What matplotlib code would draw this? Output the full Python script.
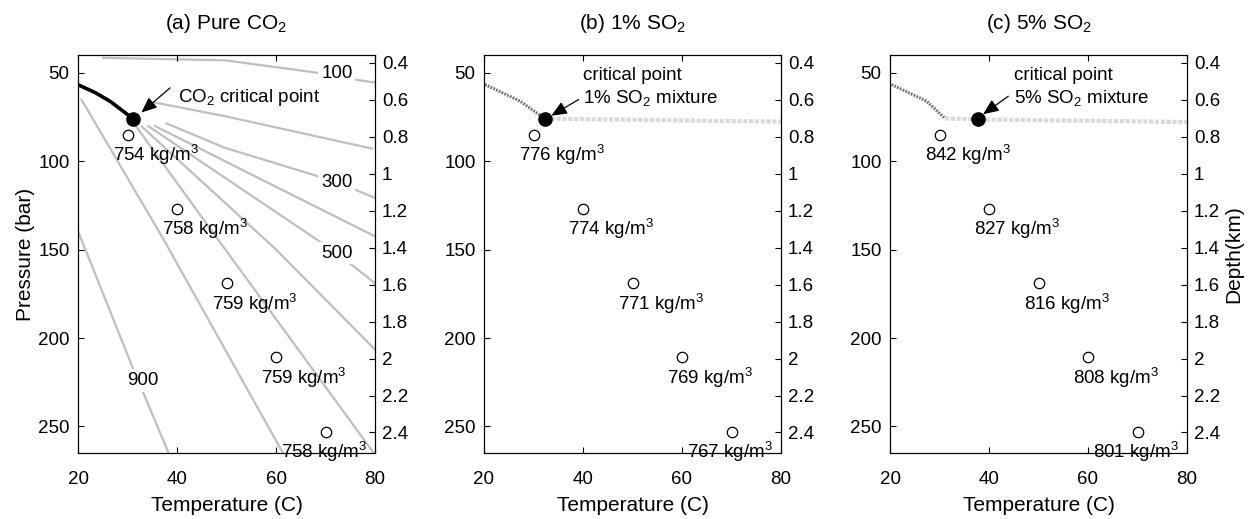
import numpy as np
import matplotlib
matplotlib.use('Agg')
import matplotlib.pyplot as plt

plt.rcParams['font.family'] = ['Liberation Sans', 'DejaVu Sans']
plt.rcParams['mathtext.fontset'] = 'custom'
plt.rcParams['mathtext.rm'] = 'Liberation Sans'
plt.rcParams['mathtext.default'] = 'regular'
plt.rcParams['font.size'] = 13.5

# sample points (temperature C, pressure bar) and densities
temps = [30, 40, 50, 60, 70]
press = [85, 127, 169, 211, 253]
dens_a = [754, 758, 759, 759, 758]
dens_b = [776, 774, 771, 769, 767]
dens_c = [842, 827, 816, 808, 801]

# pure CO2 saturation curve and critical point
sat_T = [20, 23.5, 26.5, 31.1]
sat_P = [56.8, 61.3, 66.2, 76]
crit_a = (31.1, 76)

# CO2 density isolines (kg/m3)
iso_levels = [100, 200, 300, 400, 500, 600, 700, 800, 900]
iso_T = [[25.1, 49.7, 68.3, 76.6, 80],
         [35.6, 49.7, 79.4],
         [37.9, 49.7, 72.3, 80],
         [35.6, 55, 80],
         [34.2, 72.3, 80],
         [32.9, 59.8, 80],
         [31.0, 46.7, 80],
         [20.7, 37.2, 61.8],
         [20, 30.8, 38.6]]
iso_P = [[41.6, 43.0, 50.0, 54.2, 55.6],
         [66.9, 74.6, 92.9],
         [78.7, 92.5, 111.8, 120.8],
         [80.2, 107.5, 142.5],
         [80.2, 152, 169],
         [80.5, 149.4, 206.5],
         [77.5, 138.2, 266],
         [65.2, 143.8, 267],
         [139.5, 215, 267]]
iso_labels = {100: (72.3, 50.5), 300: (72.3, 112), 500: (72.3, 152), 900: (33.1, 224)}

# mixtures: two-phase boundary (dark) and critical pressure line (light)
b_dark_T = [20.2, 27.3, 32.3]
b_dark_P = [56.7, 66.1, 76]
b_light_T = [32.3, 80]
b_light_P = [76, 77.7]
crit_b = (32.3, 76)

c_dark_T = [20.3, 27.4, 31.1]
c_dark_P = [56.7, 66.1, 75.8]
c_light_T = [31.1, 37.8, 80]
c_light_P = [75.8, 76.4, 77.9]
crit_c = (37.8, 76.4)

titles = ['(a) Pure CO$_2$', '(b) 1% SO$_2$', '(c) 5% SO$_2$']
depth_ticks = [0.4, 0.6, 0.8, 1, 1.2, 1.4, 1.6, 1.8, 2, 2.2, 2.4]


def depth(p):
    return (p - 2.6) / 104.5


fig = plt.figure(figsize=(12.51, 5.19), dpi=100)
lefts = [78, 484, 890]
axes = []
for i, lx in enumerate(lefts):
    ax = fig.add_axes([lx / 1251, 1 - 453 / 519, 297 / 1251, 398 / 519])
    ax.set_xlim(20, 80)
    ax.set_ylim(265, 40)
    ax.set_xticks([20, 40, 60, 80])
    ax.set_yticks([50, 100, 150, 200, 250])
    ax.tick_params(direction='in', top=True, right=True, length=4, width=0.8, labelsize=13.5)
    ax.tick_params(axis='x', pad=13)
    ax.tick_params(axis='y', pad=6)
    ax.set_xlabel('Temperature (C)', fontsize=15, labelpad=6)
    ax.set_title(titles[i], fontsize=15, pad=19)
    ax2 = ax.twinx()
    ax2.set_ylim(depth(265), depth(40))
    ax2.set_yticks(depth_ticks)
    ax2.set_yticklabels(['%g' % d for d in depth_ticks])
    ax2.tick_params(direction='in', length=4, width=0.8, labelsize=13.5, pad=5)
    for a in (ax, ax2):
        for s in a.spines.values():
            s.set_linewidth(0.8)
    axes.append((ax, ax2))

axes[0][0].set_ylabel('Pressure (bar)', fontsize=15, labelpad=2)
axes[2][1].set_ylabel('Depth(km)', fontsize=15, labelpad=3)

# panel a
ax = axes[0][0]
for lev, tt, pp in zip(iso_levels, iso_T, iso_P):
    ax.plot(tt, pp, color='0.75', lw=1.6, zorder=1)
for lev, (tx, py) in iso_labels.items():
    ax.text(tx, py, str(lev), ha='center', va='center', fontsize=13.5,
            bbox=dict(facecolor='white', edgecolor='none', pad=2), zorder=2)
ax.plot(sat_T, sat_P, color='k', lw=2.6, zorder=3)
ax.plot(*crit_a, 'o', color='k', ms=9.5, zorder=4)
ax.annotate('', xy=(32.8, 72.5), xytext=(38.6, 58.6),
            arrowprops=dict(arrowstyle='-|>,head_length=0.7,head_width=0.3', color='k', lw=0.9,
                            shrinkA=0, shrinkB=0), zorder=5)
ax.text(40.2, 66.7, 'CO$_2$ critical point', ha='left', va='baseline')

# panels b, c
for (ax, _), dark_T, dark_P, light_T, light_P, crit, tip, tail, txt_x, pct in [
        (axes[1], b_dark_T, b_dark_P, b_light_T, b_light_P, crit_b, (33.6, 74.3), (39.1, 65.2), 40.1, '1%'),
        (axes[2], c_dark_T, c_dark_P, c_light_T, c_light_P, crit_c, (38.8, 73.5), (43.9, 63.3), 45.1, '5%')]:
    ax.plot(light_T, light_P, color='0.85', lw=3, ls=(0, (1, 0.4)), zorder=1)
    ax.plot(dark_T, dark_P, color='0.45', lw=2.2, ls=(0, (0.6, 0.4)), zorder=2)
    ax.plot(*crit, 'o', color='k', ms=9.5, zorder=4)
    ax.annotate('', xy=tip, xytext=tail,
                arrowprops=dict(arrowstyle='-|>,head_length=0.7,head_width=0.3', color='k', lw=0.9,
                                shrinkA=0, shrinkB=0), zorder=5)
    ax.text(txt_x, 53.9, 'critical point', ha='left', va='baseline')
    ax.text(txt_x, 67, pct + ' SO$_2$ mixture', ha='left', va='baseline')

# sample points and density labels
for (ax, _), dens in zip(axes, [dens_a, dens_b, dens_c]):
    ax.plot(temps, press, 'o', mfc='white', mec='k', ms=7.5, mew=0.9, zorder=6)
    for k, (t, p, d) in enumerate(zip(temps, press, dens)):
        dx = -9 if k == len(temps) - 1 else -3
        ax.text(t + dx, p + 15, '%d kg/m$^3$' % d, ha='left', va='baseline', zorder=7)

fig.savefig('out.png', dpi=100)
